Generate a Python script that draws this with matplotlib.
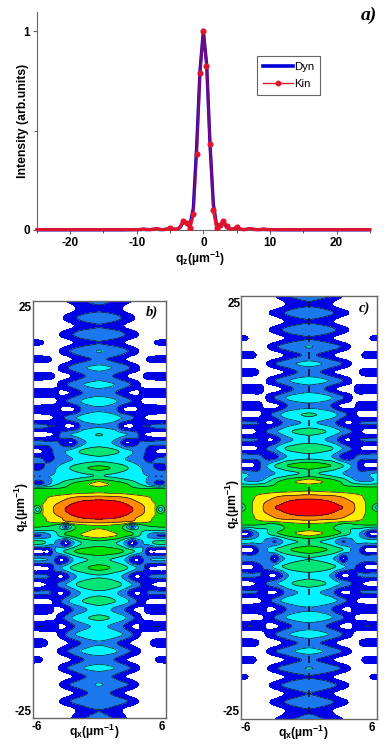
import numpy as np
import matplotlib
matplotlib.use("Agg")
import matplotlib.pyplot as plt
from matplotlib.colors import ListedColormap, BoundaryNorm

plt.rcParams['font.family'] = ['Liberation Sans', 'DejaVu Sans']
plt.rcParams['mathtext.default'] = 'regular'

# panel a, values read at each 0.5 step from -10 to 10, baseline outside that
qz_line = [-25, -20, -15, -12, -10, -9.5, -9, -8.5, -8, -7.5, -7, -6.5, -6, -5.5, -5, -4.5, -4, -3.5, -3, -2.5, -2, -1.5, -1, -0.5, 0,
           0.5, 1, 1.5, 2, 2.5, 3, 3.5, 4, 4.5, 5, 5.5, 6, 6.5, 7, 7.5, 8, 8.5, 9, 9.5, 10, 12, 15, 20, 25]
dyn = [0.001, 0.001, 0.001, 0.001, 0.002, 0.002, 0.003, 0.002, 0.002, 0.003, 0.004, 0.002, 0.002, 0.004, 0.008, 0.004, 0.003, 0.012, 0.04, 0.035, 0.025, 0.11, 0.42, 0.8, 1.0,
       0.83, 0.43, 0.13, 0.02, 0.025, 0.04, 0.015, 0.004, 0.005, 0.01, 0.004, 0.002, 0.003, 0.005, 0.003, 0.002, 0.002, 0.003, 0.002, 0.002, 0.001, 0.001, 0.001, 0.001]
kin = [0.002, 0.002, 0.002, 0.002, 0.002, 0.003, 0.005, 0.003, 0.002, 0.004, 0.008, 0.003, 0.002, 0.005, 0.012, 0.005, 0.004, 0.014, 0.045, 0.035, 0.012, 0.08, 0.38, 0.79, 1.0,
       0.825, 0.43, 0.1, 0.012, 0.025, 0.045, 0.018, 0.004, 0.006, 0.013, 0.005, 0.002, 0.004, 0.008, 0.004, 0.002, 0.002, 0.005, 0.003, 0.002, 0.002, 0.002, 0.002, 0.002]
kin_dots_q = [-1.5, -1, -0.5, 0, 0.45, 1, 1.5, -3, -2.5, -2, 2, 2.5, 3, 3.5, -5, 5]
kin_dots_i = [0.08, 0.38, 0.79, 1.0, 0.825, 0.43, 0.1, 0.045, 0.035, 0.012, 0.012, 0.025, 0.045, 0.018, 0.012, 0.013]

# contour maps: columns are |qx|, rows are |qz|
qx_abs = [0, 0.5, 1, 1.5, 2, 2.5, 3, 3.5, 4, 4.5, 5, 5.5, 6]
qz_core = [0, 0.5, 1]
qz_side = [1.5, 2, 2.5, 3, 4, 5, 6, 7, 8, 9, 10, 11, 12, 13, 14, 15, 16, 17, 18, 19, 20, 21, 22, 23, 24, 25]

b_core = [
    [8.9, 8.85, 8.75, 8.6, 8.45, 8.25, 8.05, 7.6, 7.1, 6.65, 6.2, 3.5, 5.3],
    [8.7, 8.65, 8.55, 8.45, 8.3, 8.1, 7.8, 7.4, 7.0, 6.6, 6.15, 5.0, 5.5],
    [8.25, 8.2, 8.12, 8.03, 7.85, 7.6, 7.25, 6.9, 6.55, 6.2, 5.9, 5.6, 5.7],
]
b_upper = [
    [7.3, 7.25, 7.2, 7.1, 7.02, 6.85, 6.6, 6.4, 6.2, 6.0, 5.8, 5.6, 5.6],
    [6.0, 5.95, 5.9, 5.85, 5.8, 5.7, 5.6, 5.5, 5.4, 5.3, 5.25, 5.2, 5.2],
    [5.6, 5.5, 5.5, 5.4, 5.4, 5.3, 5.2, 5.1, 5.05, 5.0, 5.0, 5.0, 5.0],
    [6.5, 6.2, 5.95, 5.6, 5.4, 5.1, 4.7, 4.25, 3.8, 3.0, 2.3, 1.8, 2.5],
    [4.2, 4.0, 3.9, 3.8, 3.6, 3.4, 3.3, 3.2, 3.1, 3.0, 3.0, 3.0, 3.0],
    [5.25, 5.15, 5.0, 4.7, 4.45, 4.1, 3.7, 3.25, 2.85, 2.4, 2.0, 1.6, 1.6],
    [3.7, 3.65, 3.55, 3.4, 3.2, 2.95, 2.7, 2.4, 2.05, 1.8, 2.0, 2.3, 2.5],
    [4.7, 4.55, 4.35, 4.15, 3.85, 3.4, 3.0, 2.6, 2.2, 1.6, 1.05, 0.7, 0.6],
    [3.3, 3.25, 3.1, 2.7, 1.9, 0.9, 1.3, 1.9, 2.2, 2.1, 2.2, 2.3, 2.4],
    [4.05, 3.95, 3.8, 3.6, 3.3, 3.05, 2.5, 2.05, 1.1, 0.8, 0.6, 0.5, 0.5],
    [2.9, 2.85, 2.7, 2.4, 1.3, 0.7, 0.8, 1.5, 2.0, 2.0, 2.2, 2.3, 2.3],
    [3.8, 3.7, 3.55, 3.35, 3.05, 2.65, 2.15, 1.6, 1.1, 0.7, 0.5, 0.4, 0.4],
    [2.8, 2.75, 2.55, 2.2, 1.2, 0.7, 0.7, 1.0, 1.5, 1.7, 1.8, 1.8, 1.8],
    [3.6, 3.5, 3.35, 3.1, 2.75, 2.35, 1.9, 1.3, 0.8, 0.5, 0.4, 0.3, 0.3],
    [2.6, 2.5, 2.3, 2.0, 1.6, 1.1, 0.8, 0.9, 1.4, 1.8, 1.9, 1.9, 1.9],
    [3.4, 3.3, 3.15, 2.95, 2.65, 2.3, 1.85, 1.25, 0.7, 0.4, 0.3, 0.3, 0.3],
    [2.45, 2.3, 2.1, 1.85, 1.45, 1.0, 0.6, 0.6, 1.0, 1.4, 1.6, 1.7, 1.7],
    [3.3, 3.2, 3.05, 2.85, 2.6, 2.25, 1.8, 1.2, 0.7, 0.3, 0.2, 0.2, 0.2],
    [2.2, 2.05, 1.9, 1.7, 1.35, 0.9, 0.5, 0.4, 0.7, 1.2, 1.4, 1.5, 1.5],
    [3.05, 2.95, 2.85, 2.7, 2.45, 2.1, 1.7, 1.1, 0.6, 0.3, 0.2, 0.2, 0.2],
    [1.95, 1.85, 1.7, 1.5, 1.2, 0.8, 0.5, 0.3, 0.3, 0.5, 1.0, 1.25, 1.3],
    [2.85, 2.8, 2.7, 2.55, 2.25, 1.9, 1.55, 1.05, 0.6, 0.3, 0.2, 0.2, 0.2],
    [1.9, 1.8, 1.65, 1.45, 1.2, 0.75, 0.4, 0.2, 0.2, 0.2, 0.2, 0.2, 0.2],
    [2.75, 2.65, 2.55, 2.3, 2.0, 1.7, 1.25, 0.75, 0.4, 0.2, 0.2, 0.2, 0.2],
    [1.75, 1.65, 1.5, 1.3, 1.05, 0.65, 0.3, 0.2, 0.2, 0.2, 0.2, 0.2, 0.2],
    [2.4, 2.3, 2.05, 1.8, 1.6, 1.3, 1.0, 0.6, 0.3, 0.2, 0.2, 0.2, 0.2],
]
b_lower = [
    [7.3, 7.25, 7.2, 7.1, 7.02, 6.85, 6.6, 6.4, 6.2, 6.0, 5.8, 5.6, 5.6],
    [5.9, 5.85, 5.7, 5.5, 5.3, 4.0, 1.8, 4.0, 4.6, 5.0, 5.1, 5.2, 5.2],
    [6.2, 6.1, 5.9, 5.6, 5.3, 4.9, 4.4, 4.2, 4.1, 4.0, 4.0, 4.0, 4.0],
    [6.7, 6.55, 6.35, 6.1, 5.75, 5.4, 5.1, 4.4, 3.6, 2.9, 2.3, 1.85, 1.9],
    [4.6, 4.5, 4.3, 4.05, 3.5, 2.3, 0.7, 2.1, 3.0, 3.5, 4.2, 4.4, 4.4],
    [5.75, 5.65, 5.5, 5.35, 5.15, 4.75, 4.25, 3.6, 2.85, 0.9, 0.8, 0.6, 0.6],
    [4.3, 4.2, 4.0, 3.8, 3.4, 2.7, 1.2, 0.8, 2.0, 2.9, 3.1, 3.2, 3.1],
    [5.3, 5.2, 5.0, 4.75, 4.5, 4.1, 3.6, 2.8, 2.2, 0.95, 0.7, 0.5, 0.5],
    [3.9, 3.85, 3.7, 3.4, 3.05, 2.4, 1.3, 0.75, 1.5, 2.0, 2.2, 2.3, 2.3],
    [4.95, 4.85, 4.65, 4.4, 4.05, 3.5, 3.0, 2.4, 1.7, 1.2, 0.8, 0.5, 0.5],
    [3.75, 3.7, 3.5, 3.15, 2.7, 2.1, 1.2, 0.75, 1.4, 2.1, 2.2, 2.2, 2.2],
    [4.6, 4.45, 4.25, 4.0, 3.65, 3.25, 2.6, 1.9, 1.2, 0.7, 0.5, 0.4, 0.4],
    [3.4, 3.3, 3.05, 2.7, 2.3, 1.8, 1.1, 0.7, 0.9, 1.5, 1.8, 1.9, 1.9],
    [4.25, 4.15, 3.98, 3.7, 3.4, 2.95, 2.25, 1.5, 0.85, 0.6, 0.5, 0.4, 0.4],
    [3.15, 3.1, 2.9, 2.6, 2.2, 1.6, 0.9, 0.8, 1.5, 1.9, 2.0, 2.0, 2.0],
    [3.9, 3.8, 3.65, 3.4, 3.1, 2.7, 2.0, 1.3, 0.7, 0.5, 0.4, 0.3, 0.3],
    [2.85, 2.75, 2.5, 2.1, 1.7, 1.2, 0.8, 0.4, 0.4, 0.8, 1.5, 1.7, 1.7],
    [3.65, 3.55, 3.35, 3.1, 2.7, 2.25, 1.85, 1.3, 0.7, 0.4, 0.3, 0.3, 0.3],
    [2.45, 2.35, 2.15, 1.9, 1.5, 1.0, 0.6, 0.3, 0.2, 0.3, 0.9, 1.3, 1.4],
    [3.4, 3.3, 3.15, 2.95, 2.65, 2.25, 1.85, 1.2, 0.7, 0.3, 0.2, 0.2, 0.2],
    [2.3, 2.2, 2.05, 1.85, 1.4, 0.9, 0.5, 0.2, 0.2, 0.2, 0.2, 0.2, 0.2],
    [3.1, 2.95, 2.8, 2.6, 2.35, 2.1, 1.7, 1.05, 0.6, 0.2, 0.2, 0.2, 0.2],
    [2.2, 2.1, 2.0, 1.7, 1.3, 0.8, 0.4, 0.2, 0.2, 0.2, 0.2, 0.2, 0.2],
    [2.9, 2.85, 2.75, 2.55, 2.35, 2.05, 1.6, 1.05, 0.6, 0.2, 0.2, 0.2, 0.2],
    [2.0, 1.95, 1.8, 1.5, 1.1, 0.6, 0.3, 0.2, 0.2, 0.2, 0.2, 0.2, 0.2],
    [2.35, 2.2, 2.05, 1.8, 1.45, 1.0, 0.5, 0.2, 0.2, 0.2, 0.2, 0.2, 0.2],
]

c_core = [
    [8.9, 8.85, 8.75, 8.6, 8.4, 8.2, 8.0, 7.55, 7.05, 6.55, 6.0, 5.2, 3.5],
    [8.5, 8.45, 8.35, 8.25, 8.1, 7.9, 7.6, 7.3, 6.95, 6.5, 6.0, 5.5, 5.0],
    [8.0, 7.98, 7.9, 7.8, 7.7, 7.5, 7.2, 6.9, 6.6, 6.25, 5.9, 5.6, 5.5],
]
c_upper = [
    [7.0, 6.98, 6.9, 6.85, 6.8, 6.7, 6.55, 6.4, 6.2, 6.0, 5.8, 5.6, 5.5],
    [5.9, 5.85, 5.8, 5.7, 5.65, 5.6, 5.5, 5.4, 5.3, 5.2, 5.2, 5.2, 5.2],
    [5.4, 5.35, 5.3, 5.25, 5.2, 5.15, 5.1, 5.05, 5.0, 4.95, 4.9, 4.9, 4.9],
    [6.5, 6.3, 6.1, 5.85, 5.55, 5.2, 4.85, 4.2, 3.55, 3.2, 3.1, 3.2, 3.4],
    [4.3, 4.15, 3.95, 3.8, 3.6, 3.3, 3.0, 2.7, 2.4, 2.3, 2.6, 3.0, 3.2],
    [5.6, 5.5, 5.35, 5.15, 4.95, 4.45, 4.0, 3.25, 2.6, 1.5, 0.7, 0.6, 0.6],
    [3.6, 3.55, 3.4, 3.2, 3.0, 2.4, 1.5, 1.3, 1.9, 2.2, 2.3, 2.5, 2.5],
    [4.9, 4.8, 4.6, 4.35, 4.1, 3.6, 2.95, 2.25, 1.7, 1.0, 0.6, 0.5, 0.5],
    [3.4, 3.35, 3.2, 2.95, 2.6, 2.0, 1.1, 0.8, 1.4, 2.0, 2.1, 2.2, 2.2],
    [4.5, 4.35, 4.2, 4.0, 3.65, 3.25, 2.8, 2.25, 1.8, 1.2, 0.6, 0.5, 0.5],
    [3.1, 3.05, 2.9, 2.7, 2.4, 1.8, 1.1, 0.8, 1.2, 2.0, 2.1, 2.2, 2.2],
    [4.15, 4.05, 3.9, 3.7, 3.45, 3.0, 2.35, 1.85, 1.3, 0.6, 0.5, 0.4, 0.4],
    [2.7, 2.65, 2.5, 2.3, 1.9, 1.1, 0.7, 0.7, 0.9, 1.6, 1.9, 1.9, 1.9],
    [3.8, 3.7, 3.55, 3.35, 3.05, 2.55, 2.1, 1.4, 0.8, 0.5, 0.4, 0.3, 0.3],
    [2.5, 2.4, 2.2, 1.9, 1.4, 0.9, 0.5, 0.5, 1.0, 1.8, 1.9, 1.9, 1.9],
    [3.55, 3.45, 3.3, 3.1, 2.85, 2.45, 1.95, 1.35, 0.7, 0.4, 0.3, 0.3, 0.3],
    [2.3, 2.2, 2.0, 1.7, 1.2, 0.75, 0.4, 0.3, 0.5, 1.1, 1.6, 1.7, 1.7],
    [3.3, 3.2, 3.05, 2.85, 2.6, 2.3, 1.9, 1.3, 0.7, 0.3, 0.2, 0.2, 0.2],
    [2.15, 2.05, 1.85, 1.6, 1.15, 0.7, 0.3, 0.2, 0.3, 0.8, 1.4, 1.5, 1.5],
    [3.05, 2.98, 2.85, 2.65, 2.45, 2.2, 1.75, 1.2, 0.6, 0.2, 0.2, 0.2, 0.2],
    [1.95, 1.85, 1.7, 1.5, 1.1, 0.7, 0.3, 0.2, 0.2, 0.2, 0.6, 1.1, 1.2],
    [2.8, 2.75, 2.65, 2.5, 2.25, 1.9, 1.5, 1.0, 0.5, 0.2, 0.2, 0.2, 0.2],
    [1.9, 1.8, 1.65, 1.4, 1.1, 0.7, 0.3, 0.2, 0.2, 0.2, 0.2, 0.2, 0.2],
    [2.75, 2.7, 2.55, 2.35, 2.1, 1.8, 1.4, 1.0, 0.5, 0.2, 0.2, 0.2, 0.2],
    [1.85, 1.75, 1.6, 1.35, 1.05, 0.6, 0.3, 0.2, 0.2, 0.2, 0.2, 0.2, 0.2],
    [2.6, 2.5, 2.35, 2.15, 1.85, 1.5, 1.0, 0.6, 0.3, 0.2, 0.2, 0.2, 0.2],
]
c_lower = [
    [7.0, 6.98, 6.9, 6.85, 6.8, 6.7, 6.55, 6.4, 6.2, 6.0, 5.8, 5.6, 5.5],
    [5.8, 5.75, 5.7, 5.6, 5.4, 5.1, 4.8, 4.7, 5.0, 5.1, 5.2, 5.2, 5.2],
    [5.5, 5.45, 5.4, 5.3, 5.1, 4.8, 4.4, 4.1, 4.0, 4.0, 3.6, 3.2, 3.1],
    [6.5, 6.3, 6.1, 5.85, 5.55, 5.2, 4.85, 4.2, 3.55, 3.0, 1.9, 0.8, 0.7],
    [4.3, 4.2, 4.0, 3.8, 3.4, 2.7, 1.9, 2.4, 3.0, 3.3, 3.3, 3.4, 3.5],
    [5.6, 5.45, 5.25, 5.05, 4.8, 4.4, 4.0, 3.25, 2.6, 1.9, 0.7, 0.5, 0.5],
    [4.0, 3.9, 3.75, 3.5, 3.15, 2.5, 0.9, 2.2, 2.6, 2.6, 2.6, 2.8, 3.0],
    [4.95, 4.85, 4.7, 4.5, 4.2, 3.9, 3.3, 2.65, 2.1, 1.6, 0.8, 0.6, 0.6],
    [3.6, 3.55, 3.4, 3.15, 2.8, 1.6, 0.8, 0.9, 1.8, 2.1, 2.2, 2.3, 2.3],
    [4.5, 4.35, 4.2, 4.0, 3.65, 3.25, 2.8, 2.25, 1.8, 1.2, 0.8, 0.5, 0.5],
    [3.2, 3.15, 3.0, 2.75, 2.4, 1.4, 0.8, 0.8, 1.5, 2.0, 2.1, 2.2, 2.2],
    [3.95, 3.9, 3.75, 3.55, 3.35, 3.0, 2.35, 1.85, 1.25, 0.7, 0.5, 0.4, 0.4],
    [2.85, 2.8, 2.65, 2.4, 2.0, 1.3, 0.9, 0.7, 1.3, 1.7, 1.9, 1.9, 1.9],
    [3.8, 3.7, 3.55, 3.35, 3.05, 2.55, 2.1, 1.5, 1.0, 0.6, 0.4, 0.3, 0.3],
    [2.6, 2.5, 2.3, 2.0, 1.6, 1.1, 0.7, 0.7, 1.2, 1.8, 2.0, 2.0, 2.0],
    [3.55, 3.45, 3.3, 3.1, 2.85, 2.45, 1.95, 1.4, 0.85, 0.45, 0.3, 0.3, 0.3],
    [2.4, 2.25, 2.0, 1.75, 1.3, 0.85, 0.4, 0.3, 0.5, 1.1, 1.6, 1.7, 1.7],
    [3.35, 3.25, 3.1, 2.9, 2.6, 2.3, 1.9, 1.3, 0.7, 0.3, 0.2, 0.2, 0.2],
    [2.15, 2.05, 1.85, 1.6, 1.15, 0.7, 0.3, 0.2, 0.3, 0.8, 1.4, 1.5, 1.5],
    [3.05, 2.98, 2.85, 2.65, 2.45, 2.2, 1.75, 1.2, 0.6, 0.2, 0.2, 0.2, 0.2],
    [1.95, 1.85, 1.7, 1.5, 1.1, 0.7, 0.3, 0.2, 0.2, 0.2, 0.6, 1.1, 1.2],
    [2.85, 2.8, 2.7, 2.5, 2.25, 1.95, 1.55, 1.0, 0.5, 0.2, 0.2, 0.2, 0.2],
    [2.0, 1.9, 1.7, 1.4, 1.1, 0.7, 0.3, 0.2, 0.2, 0.2, 0.2, 0.2, 0.2],
    [2.8, 2.7, 2.55, 2.35, 2.1, 1.8, 1.4, 0.95, 0.5, 0.2, 0.2, 0.2, 0.2],
    [1.9, 1.8, 1.6, 1.35, 1.05, 0.6, 0.3, 0.2, 0.2, 0.2, 0.2, 0.2, 0.2],
    [2.4, 2.3, 2.1, 1.9, 1.65, 1.35, 1.0, 0.6, 0.3, 0.2, 0.2, 0.2, 0.2],
]
# short black dashes down the middle of panel c
c_dash_q = [-24, -22, -20, -18, -16, -14, -12, -10, -8, -6, -4, -2, 2, 4, 6, 8, 10, 12, 14, 16, 18, 20, 22, 24]

levels = [-5, 1, 2, 3, 4, 5, 6, 7, 8, 12]
band_colors = ['#ffffff', '#0000e6', '#1c78ee', '#00f4ff', '#00e676', '#00e000', '#ffee00', '#ff8c00', '#ff0000']

W, H = 392.0, 756.0
GRAY = '#666666'


def px_axes(fig, left, top, right, bottom):
    return fig.add_axes([left / W, 1 - bottom / H, (right - left) / W, (bottom - top) / H])


def build_grid(core, upper, lower):
    # stack rows from qz=-25 to 25, then mirror the |qx| columns
    half = np.array(list(lower[::-1]) + list(core[:0:-1]) + list(core) + list(upper))
    z = np.concatenate([-np.array(qz_side[::-1]), -np.array(qz_core[:0:-1]), qz_core, qz_side])
    x_abs = np.array(qx_abs)
    x = np.concatenate([-x_abs[:0:-1], x_abs])
    grid = np.hstack([half[:, :0:-1], half])
    return x, z, grid


def round_axis(a, t, t_new, axis):
    # cubic through the read values so lobes come out round, not diamonds
    a = np.moveaxis(a, axis, 0)
    slope = np.gradient(a, t, axis=0)
    i = np.clip(np.searchsorted(t, t_new, side='right') - 1, 0, len(t) - 2)
    h = t[i + 1] - t[i]
    s = (t_new - t[i]) / h
    shape = (-1,) + (1,) * (a.ndim - 1)
    s = s.reshape(shape)
    h = h.reshape(shape)
    out = ((2 * s**3 - 3 * s**2 + 1) * a[i] + (s**3 - 2 * s**2 + s) * h * slope[i]
           + (-2 * s**3 + 3 * s**2) * a[i + 1] + (s**3 - s**2) * h * slope[i + 1])
    return np.moveaxis(out, 0, axis)


def contour_panel(ax, core, upper, lower):
    x, z, grid = build_grid(core, upper, lower)
    fine_z = np.linspace(-25, 25, 501)
    fine_x = np.linspace(-6, 6, 241)
    fine = round_axis(round_axis(grid, z, fine_z, 0), x, fine_x, 1)
    cmap = ListedColormap(band_colors)
    norm = BoundaryNorm(levels, cmap.N)
    ax.contourf(fine_x, fine_z, fine, levels=levels, cmap=cmap, norm=norm)
    ax.contour(fine_x, fine_z, fine, levels=levels[2:-1], colors='#101030', linewidths=0.5)
    ax.set_xlim(-6, 6)
    ax.set_ylim(-25, 25)
    ax.set_xticks([])
    ax.set_yticks([])
    for s in ax.spines.values():
        s.set_color(GRAY)
        s.set_linewidth(1.0)


fig = plt.figure(figsize=(W / 100, H / 100), dpi=100)

# panel a
ax = px_axes(fig, 36.7, 12, 370, 230)
ax.plot(qz_line, dyn, color='#0000d8', lw=2.4, solid_capstyle='butt', zorder=2, clip_on=False)
ax.plot(qz_line, kin, color='#e0142c', lw=2.0, alpha=0.5, zorder=3, clip_on=False)
ax.plot(qz_line[:22], kin[:22], color='#e0142c', lw=2.2, zorder=3, clip_on=False)
ax.plot(qz_line[27:], kin[27:], color='#e0142c', lw=2.2, zorder=3, clip_on=False)
ax.plot(kin_dots_q, kin_dots_i, ls='none', marker='o', ms=3.4, color='#e0142c', zorder=4)
ax.set_xlim(-25, 25)
ax.set_ylim(0, 218.0 / 199.0)
ax.spines['top'].set_visible(False)
ax.spines['right'].set_visible(False)
for s in ['left', 'bottom']:
    ax.spines[s].set_color(GRAY)
ax.set_xticks([-20, -10, 0, 10, 20])
ax.set_xticks([-25, -15, -5, 5, 15, 25], minor=True)
ax.set_yticks([0, 1])
ax.set_yticks([0.5], minor=True)
ax.tick_params(axis='both', which='major', length=3, width=0.8, color=GRAY, labelsize=8.5, pad=2)
ax.tick_params(axis='both', which='minor', length=2, width=0.8, color=GRAY)
for t in ax.get_xticklabels() + ax.get_yticklabels():
    t.set_fontweight('bold')
ax.set_xticklabels(['-20', '-10', '0', '10', '20'])

h1, = ax.plot([], [], color='#0000d8', lw=2.6)
h2, = ax.plot([], [], color='#e0142c', lw=1.0, marker='o', ms=3.2)
leg = ax.legend([h1, h2], ['Dyn', 'Kin'], loc='upper left', bbox_to_anchor=((257 - 36.7) / 333.3, (230 - 56) / 218.0),
                fontsize=8.2, frameon=True, fancybox=False, framealpha=1, edgecolor=GRAY,
                handlelength=2.6, handletextpad=0.1, borderpad=0.55, labelspacing=0.6, borderaxespad=0)
leg.get_frame().set_linewidth(0.8)

fig.text(23 / W, 1 - 121 / H, 'Intensity (arb.units)', rotation=90, ha='center', va='center', fontsize=8.8, fontweight='bold')
fig.text(200 / W, 1 - 259 / H, 'q$_{z}$(µm$^{-1}$)', ha='center', va='center', fontsize=8.8, fontweight='bold')
fig.text(377 / W, 1 - 15 / H, 'a)', ha='right', va='center', family='Liberation Serif', style='italic', fontweight='bold', fontsize=14)

# panel b
ax_b = px_axes(fig, 32.5, 301, 165.5, 718)
contour_panel(ax_b, b_core, b_upper, b_lower)
# panel c
ax_c = px_axes(fig, 241, 296, 377, 719)
contour_panel(ax_c, c_core, c_upper, c_lower)
ax_c.vlines([0] * len(c_dash_q), np.array(c_dash_q) - 0.4, np.array(c_dash_q) + 0.4, color='#101030', lw=1.2)

tick_font = dict(fontsize=8.5, fontweight='bold', ha='center', va='center')
fig.text(25 / W, 1 - 308 / H, '25', **tick_font)
fig.text(23 / W, 1 - 712 / H, '-25', **tick_font)
fig.text(37 / W, 1 - 727 / H, '-6', **tick_font)
fig.text(162 / W, 1 - 727 / H, '6', **tick_font)
fig.text(94 / W, 1 - 732 / H, 'q$_{x}$(µm$^{-1}$)', ha='center', va='center', fontsize=8.8, fontweight='bold')
fig.text(22 / W, 1 - 507 / H, 'q$_{z}$(µm$^{-1}$)', rotation=90, ha='center', va='center', fontsize=8.8, fontweight='bold')
fig.text(152 / W, 1 - 312 / H, 'b)', ha='center', va='center', family='Liberation Serif', style='italic', fontweight='bold', fontsize=10.5)

fig.text(234 / W, 1 - 304 / H, '25', **tick_font)
fig.text(231 / W, 1 - 712 / H, '-25', **tick_font)
fig.text(246 / W, 1 - 728 / H, '-6', **tick_font)
fig.text(372 / W, 1 - 728 / H, '6', **tick_font)
fig.text(303 / W, 1 - 733 / H, 'q$_{x}$(µm$^{-1}$)', ha='center', va='center', fontsize=8.8, fontweight='bold')
fig.text(233 / W, 1 - 504 / H, 'q$_{z}$(µm$^{-1}$)', rotation=90, ha='center', va='center', fontsize=8.8, fontweight='bold')
fig.text(364.5 / W, 1 - 308 / H, 'c)', ha='center', va='center', family='Liberation Serif', style='italic', fontweight='bold', fontsize=10.5)

fig.savefig('out.png', dpi=100)
